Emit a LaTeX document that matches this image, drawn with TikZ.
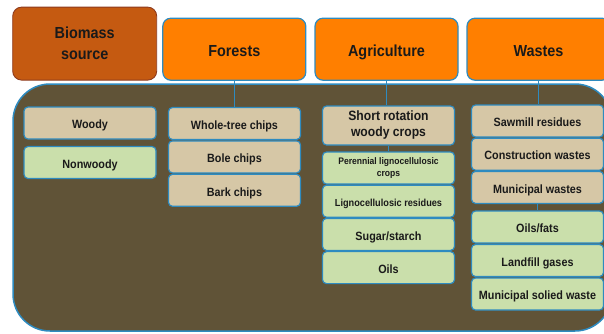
\documentclass[tikz,border=0pt]{standalone}
\usepackage{fontspec}
\setmainfont{Liberation Sans}[FakeStretch=0.9]
\definecolor{edgeblue}{HTML}{2E8BC0}
\definecolor{bgbrown}{HTML}{605337}
\definecolor{headorange}{HTML}{FF7F00}
\definecolor{srcorange}{HTML}{C55A11}
\definecolor{srcedge}{HTML}{8E3B1E}
\definecolor{itemtan}{HTML}{D6C7A6}
\definecolor{itemgreen}{HTML}{CADFAB}
\definecolor{txt}{HTML}{1A1A1A}
\tikzset{
    srcbox/.style={draw=srcedge, line width=0.9pt, fill=srcorange, rounded corners=9pt,
        minimum width=144pt, minimum height=73pt, inner sep=0pt, text=txt,
        font=\fontsize{16}{21}\selectfont\bfseries, align=center},
    head/.style={draw=edgeblue, line width=1.2pt, fill=headorange, rounded corners=8pt,
        minimum width=143pt, minimum height=62pt, inner sep=0pt, text=txt,
        text height=15.5pt, text depth=0pt, font=\fontsize{16}{21}\selectfont\bfseries},
    item/.style={draw=edgeblue, line width=1.2pt, rounded corners=4pt,
        minimum width=132pt, minimum height=32pt, inner sep=0pt, text=txt,
        font=\fontsize{12}{14}\selectfont\bfseries, align=center},
    beige/.style={item, fill=itemtan, text height=11.5pt, text depth=0pt},
    leaf/.style={item, fill=itemgreen, text height=11.5pt, text depth=0pt},
    link/.style={draw=edgeblue, line width=1.2pt}
}
\begin{document}
\begin{tikzpicture}[x=1pt, y=-1pt]
    \clip (0,0) rectangle (604,333);

    % panel behind the lists
    \draw[edgeblue, line width=1.5pt, fill=bgbrown, rounded corners=37pt] (13,84) rectangle (612,331);

    % top row
    \node[srcbox] (src) at (84.7,43.6) {Biomass\\source};
    \node[head] (forests) at (234.3,49.2) {Forests};
    \node[head] (agri) at (386.5,49.2) {Agriculture};
    \node[head] (wastes) at (538.5,49.2) {Wastes};

    % biomass source
    \node[beige] (woody) at (90,123) {Woody};
    \node[leaf] (nonwoody) at (90,162.5) {Nonwoody};

    % forests
    \foreach \t [count=\i] in {Whole-tree chips, Bole chips, Bark chips}
        \node[beige] (for\i) at (234.5,{123.5+33.4*(\i-1)}) {\t};

    % agriculture
    \node[item, fill=itemtan, minimum height=39pt, font=\fontsize{13.5}{16}\selectfont\bfseries]
        (agr0) at (388.5,125.5) {Short rotation\\woody crops};
    \node[item, fill=itemgreen, font=\fontsize{9.5}{12}\selectfont\bfseries]
        (agr1) at (388.5,168) {Perennial lignocellulosic\\crops};
    \node[leaf, font=\fontsize{10.2}{12}\selectfont\bfseries] (agr2) at (388.5,201.2) {Lignocellulosic residues};
    \node[leaf] (agr3) at (388.5,234.4) {Sugar/starch};
    \node[leaf] (agr4) at (388.5,267.6) {Oils};

    % wastes
    \foreach \t [count=\i] in {Sawmill residues, Construction wastes, Municipal wastes}
        \node[beige] (was\i) at (537.5,{121+33.2*(\i-1)}) {\t};
    \foreach \t [count=\i from 4] in {Oils/fats, Landfill gases, Municipal solied waste}
        \node[leaf] (was\i) at (537.5,{227+33.5*(\i-4)}) {\t};

    % links
    \draw[link] (forests.south) -- (forests.south |- for1.north);
    \draw[link] (agri.south) -- (agri.south |- agr0.north);
    \draw[link] (agr0.south) -- (agr1.north);
    \draw[link] (wastes.south) -- (wastes.south |- was1.north);
    \draw[link] (was3.south) -- (was4.north);
\end{tikzpicture}
\end{document}
